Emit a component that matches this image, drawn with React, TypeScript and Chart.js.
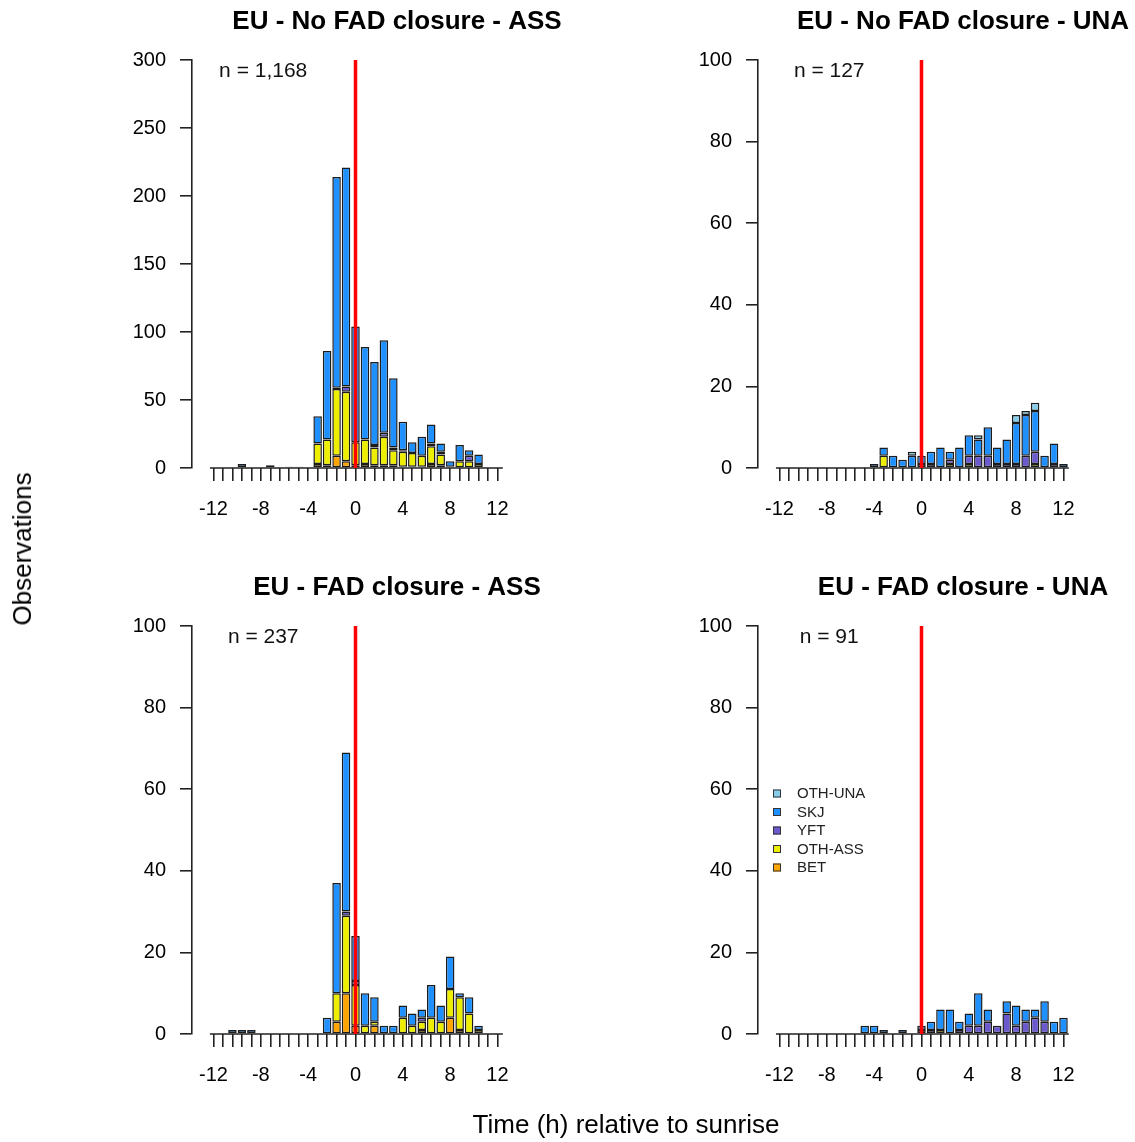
import React, { useEffect, useRef } from "react";
import { Chart, registerables } from "chart.js";

Chart.register(...registerables);

const FONT = "'Liberation Sans', Arial, sans-serif";

// Half-open 0.8 h bins, labelled by their centres (hours relative to sunrise)
const BIN_CENTERS = [
  -12, -11.2, -10.4, -9.6, -8.8, -8, -7.2, -6.4, -5.6, -4.8, -4, -3.2, -2.4, -1.6, -0.8,
  0, 0.8, 1.6, 2.4, 3.2, 4, 4.8, 5.6, 6.4, 7.2, 8, 8.8, 9.6, 10.4, 11.2, 12,
];
const X_TICK_LABELS = [-12, -8, -4, 0, 4, 8, 12];

// Stacking order, bottom to top
const SPECIES = ["BET", "OTH-ASS", "YFT", "SKJ", "OTH-UNA"];
const SPECIES_COLORS = ["#FFA500", "#EEEE00", "#6A5ACD", "#1E90FF", "#87CEEB"];
// Legend order, top to bottom
const LEGEND_ORDER = ["OTH-UNA", "SKJ", "YFT", "OTH-ASS", "BET"];

// EU - No FAD closure - ASS
const NOFAD_ASS_BET = [0,0,0,0,0,0,0,0,0,0,0,3,2,9,5,2,3,2,2,2,1,1,1,3,2,0,0,0,0,0,0];
const NOFAD_ASS_OTHASS = [0,0,0,0,0,0,0,0,0,0,0,15,19,49,51,17,18,13,21,11,11,10,8,13,8,0,5,5,3,0,0];
const NOFAD_ASS_YFT = [0,0,0,0,0,0,0,0,0,0,0,0,0,1,4,0,0,2,3,2,1,0,0,2,2,1,0,4,0,0,0];
const NOFAD_ASS_SKJ = [0,0,0,3,0,0,2,0,1,1,0,20,65,155,161,85,68,61,68,51,21,8,14,14,6,4,12,4,7,0,0];
const NOFAD_ASS_OTHUNA = [0,0,0,0,0,0,0,0,0,0,0,0,0,0,0,0,0,0,0,0,0,0,0,0,0,0,0,0,0,0,0];

// EU - No FAD closure - UNA
const NOFAD_UNA_BET = [0,0,0,0,0,0,0,0,0,0,0,0,0,0,0,0,0,0,0,0,0,0,0,0,0,0,0,0,0,0,0];
const NOFAD_UNA_OTHASS = [0,0,0,0,0,0,0,0,0,0,0,3,0,0,0,0,0,0,1,0,1,0,0,0,0,0,0,1,0,0,0];
const NOFAD_UNA_YFT = [0,0,0,0,0,0,0,0,0,0,0,0,0,0,0,1,1,0,1,0,2,3,3,1,1,1,3,3,0,1,0];
const NOFAD_UNA_SKJ = [0,0,0,0,0,0,0,0,0,0,1,2,3,2,3,2,3,5,2,5,5,4,7,4,6,10,10,10,3,5,1];
const NOFAD_UNA_OTHUNA = [0,0,0,0,0,0,0,0,0,0,0,0,0,0,1,0,0,0,0,0,0,1,0,0,0,2,1,2,0,0,0];

// EU - FAD closure - ASS
const FAD_ASS_BET = [0,0,0,0,0,0,0,0,0,0,0,0,0,3,10,2,0,2,0,0,0,0,1,0,0,4,1,0,0,0,0];
const FAD_ASS_OTHASS = [0,0,0,0,0,0,0,0,0,0,0,0,0,7,19,10,2,1,0,0,4,2,2,4,3,7,8,5,1,0,0];
const FAD_ASS_YFT = [0,0,0,0,0,0,0,0,0,0,0,0,0,0,1,1,0,0,0,0,0,0,1,0,0,0,0,0,0,0,0];
const FAD_ASS_SKJ = [0,0,1,1,1,0,0,0,0,0,0,0,4,27,39,11,8,6,2,2,3,3,2,8,4,8,1,4,1,0,0];
const FAD_ASS_OTHUNA = [0,0,0,0,0,0,0,0,0,0,0,0,0,0,0,0,0,0,0,0,0,0,0,0,0,0,0,0,0,0,0];

// EU - FAD closure - UNA
const FAD_UNA_BET = [0,0,0,0,0,0,0,0,0,0,0,0,0,0,0,0,0,0,0,0,0,0,0,0,0,0,0,0,0,0,0];
const FAD_UNA_OTHASS = [0,0,0,0,0,0,0,0,0,0,0,0,0,0,0,0,0,1,0,0,0,0,0,0,0,0,0,0,0,0,0];
const FAD_UNA_YFT = [0,0,0,0,0,0,0,0,0,0,0,0,0,0,0,1,1,0,0,1,2,2,3,2,5,2,3,4,3,0,0];
const FAD_UNA_SKJ = [0,0,0,0,0,0,0,0,0,2,2,1,0,1,0,1,2,5,6,2,3,8,3,0,3,5,3,2,5,3,4];
const FAD_UNA_OTHUNA = [0,0,0,0,0,0,0,0,0,0,0,0,0,0,0,0,0,0,0,0,0,0,0,0,0,0,0,0,0,0,0];

const PANEL_TITLES = [
  "EU - No FAD closure - ASS",
  "EU - No FAD closure - UNA",
  "EU - FAD closure - ASS",
  "EU - FAD closure - UNA",
];
const PANEL_N = ["n = 1,168", "n = 127", "n = 237", "n = 91"];
const PANEL_YMAX = [300, 100, 100, 100];
const PANEL_YSTEP = [50, 20, 20, 20];

const PANELS = [
  { series: [NOFAD_ASS_BET, NOFAD_ASS_OTHASS, NOFAD_ASS_YFT, NOFAD_ASS_SKJ, NOFAD_ASS_OTHUNA], legend: false },
  { series: [NOFAD_UNA_BET, NOFAD_UNA_OTHASS, NOFAD_UNA_YFT, NOFAD_UNA_SKJ, NOFAD_UNA_OTHUNA], legend: false },
  { series: [FAD_ASS_BET, FAD_ASS_OTHASS, FAD_ASS_YFT, FAD_ASS_SKJ, FAD_ASS_OTHUNA], legend: false },
  { series: [FAD_UNA_BET, FAD_UNA_OTHASS, FAD_UNA_YFT, FAD_UNA_SKJ, FAD_UNA_OTHUNA], legend: true },
];

// Panel geometry (canvas pixels)
const CANVAS_SIZE = 566;
const AREA_LEFT = 192;
const AREA_RIGHT = 530;
const AREA_TOP = 60;
const AREA_BOTTOM = 468;
const PX_PER_HOUR = 11.833;
const ZERO_PX = 355.5;
const X_MIN = -(ZERO_PX - AREA_LEFT) / PX_PER_HOUR;
const X_MAX = (AREA_RIGHT - ZERO_PX) / PX_PER_HOUR;
const BASELINE_FROM = -12.3;
const BASELINE_TO = 12.45;
const N_LABEL_X = -7.8;
const AXIS_COLOR = "#222";

function Panel({ index }: { index: number }) {
  const ref = useRef<HTMLCanvasElement | null>(null);

  useEffect(() => {
    const canvas = ref.current;
    if (!canvas) return;
    const panel = PANELS[index];
    const yMax = PANEL_YMAX[index];

    const decorations = {
      id: "panelDecorations",
      beforeDatasetsDraw(chart: any) {
        const { ctx, chartArea, scales } = chart;
        const x = scales.x;
        ctx.save();
        ctx.strokeStyle = AXIS_COLOR;
        ctx.lineWidth = 1.6;
        ctx.beginPath();
        ctx.moveTo(x.getPixelForValue(BASELINE_FROM), chartArea.bottom);
        ctx.lineTo(x.getPixelForValue(BASELINE_TO), chartArea.bottom);
        ctx.stroke();
        ctx.restore();
      },
      afterDatasetsDraw(chart: any) {
        const { ctx, chartArea, scales } = chart;
        const x = scales.x;
        ctx.save();
        // sunrise marker
        const x0 = x.getPixelForValue(0);
        ctx.strokeStyle = "#FF0000";
        ctx.lineWidth = 3.5;
        ctx.beginPath();
        ctx.moveTo(x0, chartArea.top);
        ctx.lineTo(x0, chartArea.bottom);
        ctx.stroke();

        // title
        ctx.fillStyle = "#000";
        ctx.textAlign = "center";
        ctx.textBaseline = "middle";
        ctx.font = `bold 26px ${FONT}`;
        ctx.fillText(PANEL_TITLES[index], 397, 22);

        // sample size
        ctx.font = `21px ${FONT}`;
        ctx.fillStyle = "#111";
        ctx.fillText(PANEL_N[index], x.getPixelForValue(N_LABEL_X), chartArea.top + 11);

        if (panel.legend) {
          ctx.font = `15px ${FONT}`;
          ctx.textAlign = "left";
          LEGEND_ORDER.forEach((name, i) => {
            const cy = 227.5 + i * 18.5;
            const color = SPECIES_COLORS[SPECIES.indexOf(name)];
            ctx.fillStyle = color;
            ctx.fillRect(207, cy - 4, 8, 8);
            ctx.strokeStyle = "#333";
            ctx.lineWidth = 1;
            ctx.strokeRect(207.5, cy - 3.5, 7, 7);
            ctx.fillStyle = "#222";
            ctx.fillText(name, 231, cy + 0.5);
          });
        }
        ctx.restore();
      },
    };

    const chart = new Chart(canvas, {
      type: "bar",
      data: {
        datasets: SPECIES.map((name, j) => ({
          label: name,
          data: BIN_CENTERS.map((x, i) => ({ x, y: panel.series[j][i] })).filter((d) => d.y > 0),
          backgroundColor: SPECIES_COLORS[j],
          borderColor: "#1c1c1c",
          borderWidth: 1.5,
          borderSkipped: false,
          barPercentage: 0.9,
          categoryPercentage: 1,
        })),
      },
      options: {
        animation: false,
        responsive: false,
        events: [],
        layout: {
          padding: { left: 0, top: AREA_TOP, right: CANVAS_SIZE - AREA_RIGHT, bottom: 0 },
        },
        plugins: {
          legend: { display: false },
          tooltip: { enabled: false },
          title: { display: false },
        },
        scales: {
          x: {
            type: "linear",
            stacked: true,
            min: X_MIN,
            max: X_MAX,
            offset: false,
            afterBuildTicks: (axis: any) => {
              axis.ticks = BIN_CENTERS.map((v) => ({ value: v }));
            },
            afterFit: (axis: any) => {
              axis.height = CANVAS_SIZE - AREA_BOTTOM;
            },
            grid: {
              offset: false,
              drawOnChartArea: false,
              drawTicks: true,
              tickLength: 13,
              color: AXIS_COLOR,
              lineWidth: 1.6,
            },
            border: { display: false },
            ticks: {
              autoSkip: false,
              maxRotation: 0,
              minRotation: 0,
              padding: 16,
              color: "#000",
              font: { family: FONT, size: 20 },
              callback: (value: any) => {
                const r = Math.round(Number(value));
                return Math.abs(Number(value) - r) < 1e-6 && X_TICK_LABELS.includes(r) ? String(r) : "";
              },
            },
          },
          y: {
            stacked: true,
            min: 0,
            max: yMax,
            afterFit: (axis: any) => {
              axis.width = AREA_LEFT;
            },
            ticks: {
              stepSize: PANEL_YSTEP[index],
              padding: 14,
              color: "#000",
              font: { family: FONT, size: 20 },
            },
            grid: {
              drawOnChartArea: false,
              drawTicks: true,
              tickLength: 12,
              color: AXIS_COLOR,
              lineWidth: 1.6,
            },
            border: { display: true, color: AXIS_COLOR, width: 1.6 },
          },
        },
      } as any,
      plugins: [decorations],
    });

    return () => chart.destroy();
  }, [index]);

  const left = (index % 2) * CANVAS_SIZE;
  const top = Math.floor(index / 2) * CANVAS_SIZE;
  return (
    <canvas
      ref={ref}
      width={CANVAS_SIZE}
      height={CANVAS_SIZE}
      style={{ position: "absolute", left, top, width: CANVAS_SIZE, height: CANVAS_SIZE }}
    />
  );
}

export default function App() {
  return (
    <div
      style={{
        position: "absolute",
        left: 0,
        top: 0,
        width: 1135,
        height: 1142,
        background: "#fff",
        overflow: "hidden",
        fontFamily: FONT,
      }}
    >
      {[0, 1, 2, 3].map((i) => (
        <Panel key={i} index={i} />
      ))}
      <div
        style={{
          position: "absolute",
          left: 22,
          top: 549,
          transform: "translate(-50%, -50%) rotate(-90deg)",
          fontSize: 26,
          lineHeight: "26px",
          whiteSpace: "nowrap",
          color: "#000",
        }}
      >
        Observations
      </div>
      <div
        style={{
          position: "absolute",
          left: 626,
          top: 1124,
          transform: "translate(-50%, -50%)",
          fontSize: 26,
          lineHeight: "26px",
          whiteSpace: "nowrap",
          color: "#000",
        }}
      >
        Time (h) relative to sunrise
      </div>
    </div>
  );
}
